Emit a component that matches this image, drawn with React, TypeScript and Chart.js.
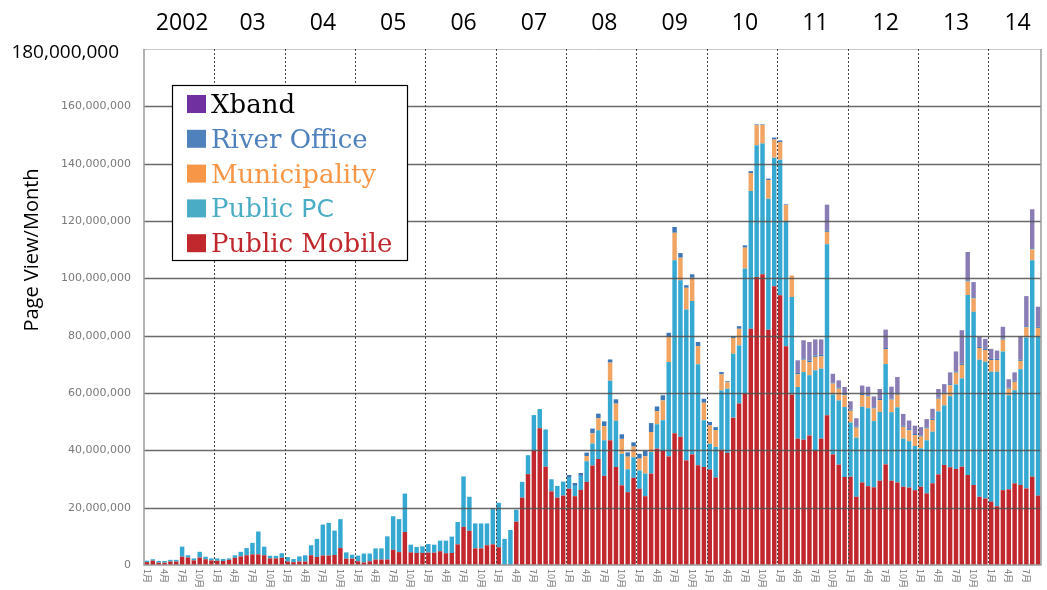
import React, { useEffect, useRef } from "react";
import { Chart, registerables } from "chart.js";

Chart.register(...registerables);

// ---------- labels ----------
const YEAR_LABELS = ["2002", "03", "04", "05", "06", "07", "08", "09", "10", "11", "12", "13", "14"];
const MONTHS_IN_YEAR = [12, 12, 12, 12, 12, 12, 12, 12, 12, 12, 12, 12, 9];
const MONTH_NAMES = ["1月", "2月", "3月", "4月", "5月", "6月", "7月", "8月", "9月", "10月", "11月", "12月"];
const SHOWN_MONTHS = ["1月", "4月", "7月", "10月"];
const Y_TICKS = [0, 20000000, 40000000, 60000000, 80000000, 100000000, 120000000, 140000000, 160000000, 180000000];
const Y_TICK_LABELS = ["0", "20,000,000", "40,000,000", "60,000,000", "80,000,000", "100,000,000", "120,000,000", "140,000,000", "160,000,000", "180,000,000"];
const Y_TITLE = "Page View/Month";
const LEGEND_NAMES = ["Xband", "River Office", "Municipality", "Public PC", "Public Mobile"];

// ---------- values (millions of page views per month), Jan 2002 .. Sep 2014 ----------
const publicMobile = [
  1.0, 1.5, 0.8, 0.8, 1.2, 1.2, 2.9, 2.6, 1.6, 2.6, 2.0, 1.6,
  1.5, 1.4, 1.8, 2.5, 3.0, 3.4, 3.7, 3.7, 3.4, 2.3, 2.3, 2.5,
  1.2, 1.0, 1.2, 1.2, 3.4, 2.8, 3.3, 3.3, 3.5, 5.9, 2.2, 2.2,
  1.3, 0.9, 1.3, 1.9, 1.9, 1.9, 5.3, 4.5, 11.5, 4.4, 4.2, 4.2,
  4.3, 4.3, 4.8, 4.1, 4.2, 7.2, 13.3, 11.9, 5.8, 5.8, 6.9, 7.2,
  6.2, 0, 0, 15.1, 23.5, 31.7, 39.9, 47.7, 34.3, 25.7, 23.5, 24.2,
  26.6, 24.0, 26.2, 29.0, 34.7, 37.0, 31.1, 43.5, 34.2, 27.8, 25.4, 30.4,
  26.6, 24.0, 31.9, 40.6, 39.8, 37.9, 46.0, 44.7, 36.5, 38.6, 34.8, 34.2,
  33.3, 30.5, 40.2, 39.1, 51.4, 56.3, 59.8, 82.4, 100.5, 101.4, 82.1, 97.2,
  94.1, 76.3, 59.5, 44.1, 43.7, 45.2, 39.8, 44.1, 52.2, 38.6, 35.0, 30.7,
  30.8, 23.8, 28.8, 27.5, 27.1, 29.4, 35.1, 29.4, 28.8, 27.3, 27.0, 26.1,
  27.3, 25.0, 28.5, 31.6, 34.9, 34.1, 33.5, 34.3, 31.4, 27.9, 23.8, 23.2,
  22.1, 20.5, 26.1, 26.4, 28.5, 27.9, 26.7, 30.8, 24.2,
];
const publicPC = [
  0.5, 0.5, 0.6, 0.6, 0.6, 0.6, 3.5, 0.8, 0.7, 2.0, 0.9, 0.7,
  0.8, 0.7, 0.5, 0.9, 1.6, 2.5, 4.0, 8.0, 3.0, 0.9, 0.9, 1.6,
  1.6, 1.1, 1.8, 2.2, 3.5, 6.3, 10.8, 11.4, 8.5, 10.1, 2.2, 1.4,
  2.0, 3.1, 2.7, 3.9, 3.9, 8.1, 11.7, 11.5, 13.4, 2.7, 2.1, 2.3,
  3.0, 2.8, 3.7, 4.4, 5.7, 7.8, 17.6, 11.9, 8.7, 8.7, 7.6, 12.6,
  15.5, 9.1, 12.2, 4.2, 5.5, 6.6, 12.4, 6.7, 13.0, 4.2, 4.1, 4.9,
  3.8, 3.6, 4.9, 7.2, 7.7, 10.0, 12.4, 20.8, 16.1, 11.0, 8.0, 7.2,
  6.4, 7.9, 7.5, 8.5, 10.7, 32.9, 60.3, 54.6, 52.6, 53.5, 35.2, 16.3,
  9.0, 10.7, 20.7, 22.4, 22.3, 20.3, 43.6, 48.1, 45.9, 45.6, 45.7, 44.9,
  47.3, 43.7, 34.0, 18.0, 23.6, 21.0, 28.1, 24.4, 59.7, 20.9, 22.4, 24.4,
  18.9, 20.6, 26.4, 27.2, 23.1, 24.0, 35.0, 23.9, 26.2, 16.8, 16.2, 15.4,
  13.4, 18.5, 18.0, 22.0, 20.8, 24.8, 29.5, 30.8, 62.8, 60.4, 47.8, 47.7,
  45.3, 46.9, 48.4, 32.8, 32.5, 40.4, 52.7, 75.5, 55.6,
];
const municipality = [
  0, 0, 0, 0, 0, 0, 0, 0, 0, 0, 0, 0,
  0, 0, 0, 0, 0, 0, 0, 0, 0, 0, 0, 0,
  0, 0, 0, 0, 0, 0, 0, 0, 0, 0, 0, 0,
  0, 0, 0, 0, 0, 0, 0, 0, 0, 0, 0, 0,
  0, 0, 0, 0, 0, 0, 0, 0, 0, 0, 0, 0,
  0, 0, 0, 0, 0, 0, 0, 0, 0, 0, 0, 0,
  0, 0, 0, 1.8, 3.5, 4.2, 4.9, 6.3, 6.0, 5.2, 4.4, 3.7,
  4.1, 6.0, 7.0, 4.6, 6.9, 8.7, 9.6, 7.9, 7.6, 8.1, 6.4, 6.1,
  6.4, 5.9, 5.6, 2.2, 5.5, 5.8, 7.3, 6.2, 7.0, 6.5, 6.5, 6.3,
  6.1, 5.5, 7.5, 4.4, 4.3, 4.6, 4.7, 4.3, 4.3, 3.8, 4.1, 4.1,
  4.1, 3.5, 4.1, 4.1, 4.4, 4.1, 5.2, 4.4, 4.4, 4.1, 3.8, 3.8,
  4.1, 4.1, 4.1, 4.4, 4.1, 3.8, 4.1, 4.7, 4.7, 4.7, 4.1, 4.1,
  4.1, 4.1, 4.1, 2.3, 2.9, 2.9, 3.5, 3.8, 2.9,
];
const riverOffice = [
  0, 0, 0, 0, 0, 0, 0, 0, 0, 0, 0, 0,
  0, 0, 0, 0, 0, 0, 0, 0, 0, 0, 0, 0,
  0, 0, 0, 0, 0, 0, 0, 0, 0, 0, 0, 0,
  0, 0, 0, 0, 0, 0, 0, 0, 0, 0, 0, 0,
  0, 0, 0, 0, 0, 0, 0, 0, 0, 0, 0, 0,
  0, 0, 0, 0, 0, 0, 0, 0, 0, 0, 0, 0,
  1.0, 1.0, 1.0, 1.2, 1.7, 1.6, 1.7, 1.1, 1.5, 1.6, 1.5, 1.5,
  1.7, 1.9, 3.1, 1.6, 1.8, 1.5, 2.0, 1.6, 0.9, 1.2, 1.4, 1.4,
  1.2, 1.0, 0.8, 0.4, 0.6, 0.9, 0.8, 0.7, 0.3, 0.2, 0.5, 0.7,
  0.6, 0.3, 0, 0.5, 0.5, 0.5, 0.5, 0.5, 0.5, 0.4, 0.4, 0.4,
  0.4, 0.4, 0.4, 0.4, 0.4, 0.4, 0.4, 0.4, 0.4, 0.4, 0.4, 0.4,
  0.4, 0.4, 0.4, 0.4, 0.4, 0.4, 0.4, 0.4, 0.4, 0.4, 0.4, 0.4,
  0.4, 0.4, 0.4, 0.4, 0.4, 0.4, 0.4, 0.4, 0.4,
];
const xband = [
  0, 0, 0, 0, 0, 0, 0, 0, 0, 0, 0, 0,
  0, 0, 0, 0, 0, 0, 0, 0, 0, 0, 0, 0,
  0, 0, 0, 0, 0, 0, 0, 0, 0, 0, 0, 0,
  0, 0, 0, 0, 0, 0, 0, 0, 0, 0, 0, 0,
  0, 0, 0, 0, 0, 0, 0, 0, 0, 0, 0, 0,
  0, 0, 0, 0, 0, 0, 0, 0, 0, 0, 0, 0,
  0, 0, 0, 0, 0, 0, 0, 0, 0, 0, 0, 0,
  0, 0, 0, 0, 0, 0, 0, 0, 0, 0, 0, 0,
  0, 0, 0, 0, 0, 0, 0, 0, 0, 0, 0, 0,
  0, 0, 0, 4.4, 6.3, 6.5, 5.6, 5.4, 9.0, 3.0, 2.5, 2.5,
  2.9, 2.9, 2.9, 3.0, 3.8, 3.5, 6.4, 4.1, 5.8, 4.1, 3.0, 2.9,
  2.9, 2.9, 3.5, 3.0, 2.9, 4.1, 7.0, 11.7, 9.9, 5.3, 3.5, 3.5,
  3.5, 2.9, 4.1, 2.9, 2.9, 8.2, 10.5, 13.6, 7.0,
];

// ---------- categories ----------
const categories: string[] = [];
const monthOfCategory: string[] = [];
YEAR_LABELS.forEach((yr, k) => {
  for (let m = 0; m < MONTHS_IN_YEAR[k]; m++) {
    categories.push(yr + " " + MONTH_NAMES[m]);
    monthOfCategory.push(MONTH_NAMES[m]);
  }
});

const toViews = (arr: number[]) => arr.map((v) => v * 1000000);

const BAR_COLORS = {
  mobile: "#c1272c",
  pc: "#36a9d2",
  muni: "#f2a462",
  river: "#3c78b8",
  xband: "#8a7db6",
};
const LEGEND_SWATCH = ["#7030a0", "#4f81bd", "#f79646", "#4bacc6", "#c0282d"];
const LEGEND_TEXT = ["#000000", "#4f81bd", "#f79646", "#4bacc6", "#c0282d"];

const decorPlugin = {
  id: "decor",
  afterDatasetsDraw(chart: any) {
    const { ctx, chartArea: a, scales } = chart;
    const x = scales.x;
    const y = scales.y;
    ctx.save();
    // horizontal grid lines
    Y_TICKS.forEach((v, i) => {
      if (v === 0) return;
      const py = Math.round(y.getPixelForValue(v)) + 0.5;
      ctx.strokeStyle = i === Y_TICKS.length - 1 ? "#c8c8c8" : "rgba(80,80,80,0.85)";
      ctx.lineWidth = i === Y_TICKS.length - 1 ? 1 : 1.4;
      ctx.beginPath();
      ctx.moveTo(a.left, py);
      ctx.lineTo(a.right, py);
      ctx.stroke();
    });
    // year separators (dashed)
    ctx.setLineDash([2, 2]);
    ctx.strokeStyle = "#444";
    ctx.lineWidth = 1;
    let idx = 0;
    MONTHS_IN_YEAR.forEach((n, k) => {
      if (k > 0) {
        const px = Math.round((x.getPixelForValue(idx - 1) + x.getPixelForValue(idx)) / 2) + 0.5;
        ctx.beginPath();
        ctx.moveTo(px, a.top);
        ctx.lineTo(px, a.bottom);
        ctx.stroke();
      }
      idx += n;
    });
    ctx.setLineDash([]);
    // frame
    ctx.strokeStyle = "#9a9a9a";
    ctx.lineWidth = 1.5;
    ctx.beginPath();
    ctx.moveTo(a.left, a.top);
    ctx.lineTo(a.left, a.bottom);
    ctx.lineTo(a.right, a.bottom);
    ctx.lineTo(a.right, a.top);
    ctx.stroke();
    ctx.restore();
  },
  afterDraw(chart: any) {
    const { ctx, chartArea: a, scales } = chart;
    const x = scales.x;
    const y = scales.y;
    ctx.save();

    // y tick labels
    Y_TICKS.forEach((v, i) => {
      const py = y.getPixelForValue(v);
      if (i === Y_TICKS.length - 1) {
        ctx.font = '19px "Open Sans"';
        ctx.fillStyle = "#000";
        ctx.textAlign = "right";
        ctx.textBaseline = "middle";
        ctx.fillText(Y_TICK_LABELS[i], a.left - 25, py + 4);
      } else {
        ctx.font = '11px "DejaVu Sans"';
        ctx.fillStyle = "#7a7a7a";
        ctx.textAlign = "right";
        ctx.textBaseline = "middle";
        ctx.fillText(Y_TICK_LABELS[i], a.left - 13, py);
      }
    });

    // y title
    ctx.save();
    ctx.translate(32, (a.top + a.bottom) / 2 - 57);
    ctx.rotate(-Math.PI / 2);
    ctx.font = '20px "Open Sans"';
    ctx.fillStyle = "#000";
    ctx.textAlign = "center";
    ctx.textBaseline = "middle";
    ctx.fillText(Y_TITLE, 0, 0);
    ctx.restore();

    // month labels (rotated)
    ctx.font = '9px "Noto Sans CJK JP"';
    ctx.fillStyle = "#707070";
    monthOfCategory.forEach((mn, i) => {
      if (SHOWN_MONTHS.indexOf(mn) < 0) return;
      const px = x.getPixelForValue(i);
      ctx.save();
      ctx.translate(px, a.bottom + 4);
      ctx.rotate(Math.PI / 2);
      ctx.textAlign = "left";
      ctx.textBaseline = "middle";
      ctx.fillText(mn, 0, 0);
      ctx.restore();
    });

    // year labels on top
    ctx.font = '23px "Open Sans"';
    ctx.fillStyle = "#000";
    ctx.textAlign = "center";
    ctx.textBaseline = "middle";
    let idx = 0;
    MONTHS_IN_YEAR.forEach((n, k) => {
      const cx = (x.getPixelForValue(idx) + x.getPixelForValue(idx + n - 1)) / 2;
      ctx.fillText(YEAR_LABELS[k], cx + 3, 23);
      idx += n;
    });

    // legend box
    const lx = 172.5, ly = 85.5, lw = 235, lh = 175;
    ctx.fillStyle = "#fff";
    ctx.fillRect(lx, ly, lw, lh);
    ctx.strokeStyle = "#000";
    ctx.lineWidth = 1.2;
    ctx.strokeRect(lx, ly, lw, lh);
    LEGEND_NAMES.forEach((name, i) => {
      const base = 113 + i * 34.8;
      ctx.fillStyle = LEGEND_SWATCH[i];
      ctx.fillRect(187, base - 18, 19, 18);
      ctx.fillStyle = LEGEND_TEXT[i];
      ctx.textAlign = "left";
      ctx.textBaseline = "alphabetic";
      if (name === "Public PC") {
        ctx.font = '26px "DejaVu Serif"';
        const w = ctx.measureText("Public ").width;
        ctx.fillText("Public ", 211, base);
        ctx.font = '25px "DejaVu Sans"';
        ctx.fillText("PC", 211 + w, base);
      } else {
        ctx.font = '26px "DejaVu Serif"';
        ctx.fillText(name, 211, base);
      }
    });
    ctx.restore();
  },
};

export default function App() {
  const canvasRef = useRef<HTMLCanvasElement | null>(null);

  useEffect(() => {
    document.body.style.margin = "0";
    const canvas = canvasRef.current;
    if (!canvas) return;
    const common = { barPercentage: 0.76, categoryPercentage: 1.0, borderWidth: 0 };
    const chart = new Chart(canvas, {
      type: "bar",
      data: {
        labels: categories,
        datasets: [
          { label: "Public Mobile", data: toViews(publicMobile), backgroundColor: BAR_COLORS.mobile, ...common },
          { label: "Public PC", data: toViews(publicPC), backgroundColor: BAR_COLORS.pc, ...common },
          { label: "Municipality", data: toViews(municipality), backgroundColor: BAR_COLORS.muni, ...common },
          { label: "River Office", data: toViews(riverOffice), backgroundColor: BAR_COLORS.river, ...common },
          { label: "Xband", data: toViews(xband), backgroundColor: BAR_COLORS.xband, ...common },
        ],
      },
      options: {
        responsive: false,
        animation: false,
        layout: { padding: { left: 144, right: 6, top: 49, bottom: 25 } },
        plugins: { legend: { display: false }, tooltip: { enabled: false } },
        scales: {
          x: { stacked: true, display: false },
          y: { stacked: true, display: false, min: 0, max: 180000000 },
        },
      },
      plugins: [decorPlugin],
    } as any);
    return () => chart.destroy();
  }, []);

  return (
    <div style={{ position: "absolute", left: 0, top: 0, width: 1047, height: 590, background: "#fff" }}>
      <canvas ref={canvasRef} width={1047} height={590} style={{ display: "block" }} />
    </div>
  );
}
